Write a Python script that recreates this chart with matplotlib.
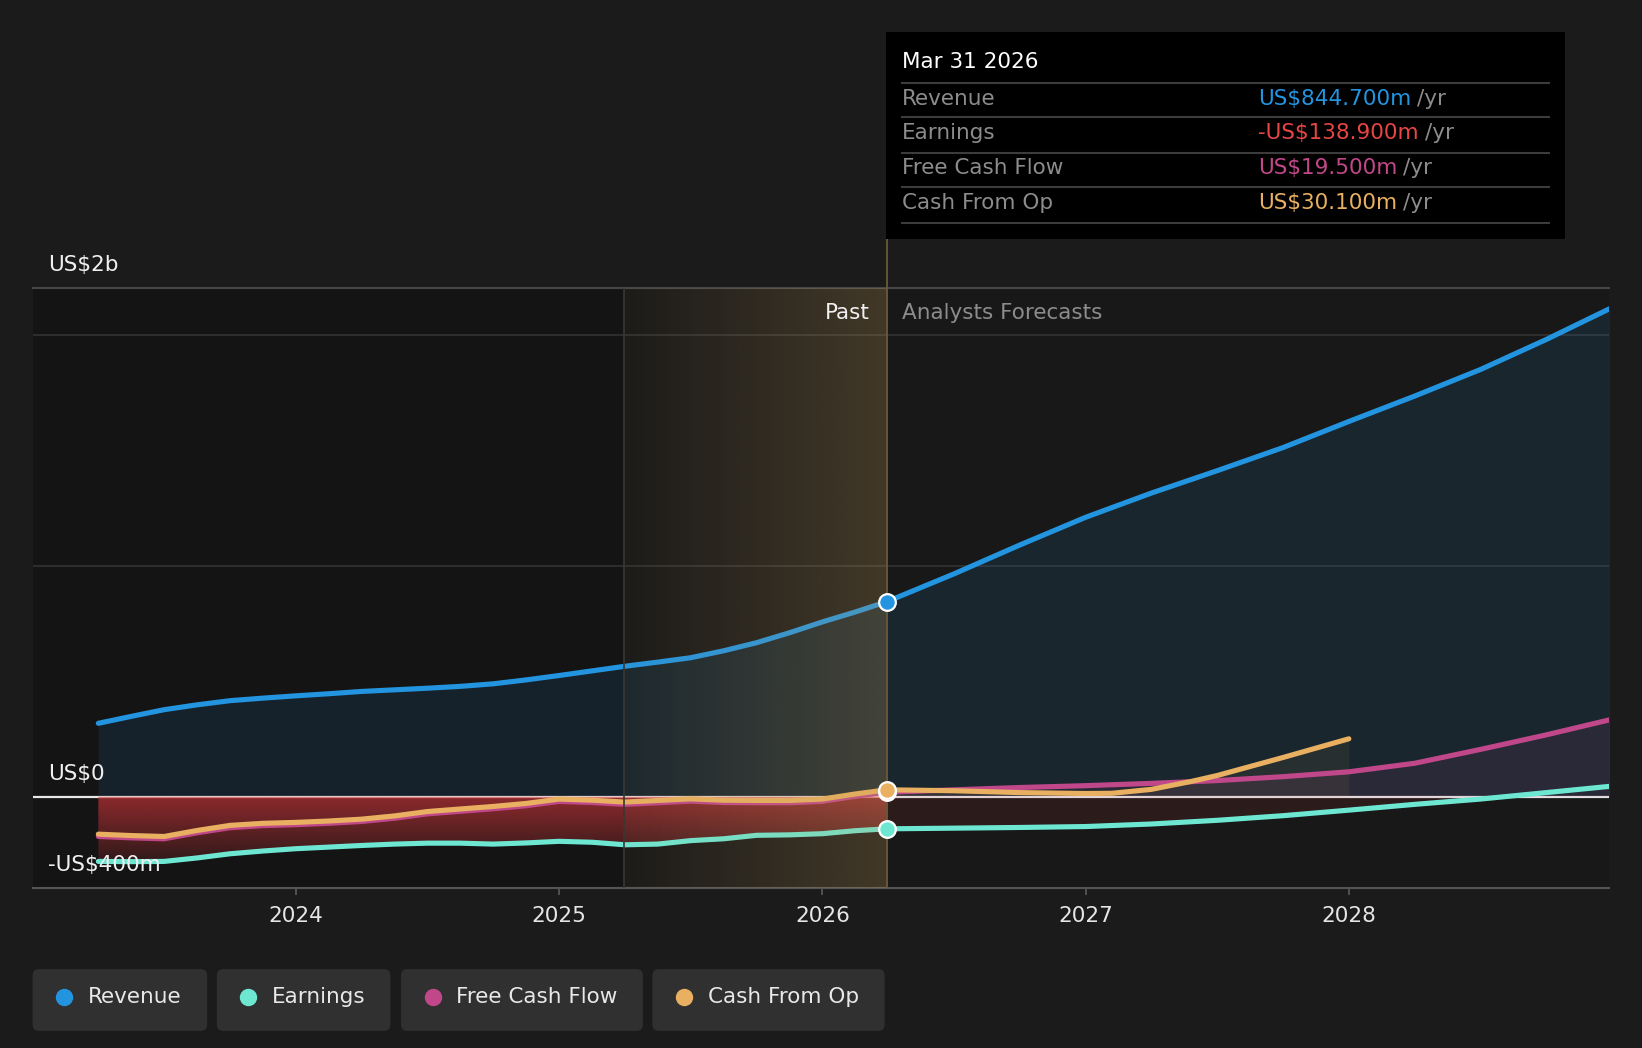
import numpy as np
import matplotlib
matplotlib.use("Agg")
import matplotlib.pyplot as plt
from matplotlib.patches import FancyBboxPatch, Rectangle
from matplotlib.lines import Line2D
from matplotlib.colors import to_rgb

plt.rcParams['font.family'] = ['DejaVu Sans']

# ---- data (US$ billions, x = decimal year) ----
past_x = [2023.25, 2023.375, 2023.5, 2023.625, 2023.75, 2023.875, 2024.0,
          2024.125, 2024.25, 2024.375, 2024.5, 2024.625, 2024.75, 2024.875,
          2025.0, 2025.125, 2025.25, 2025.375, 2025.5, 2025.625, 2025.75,
          2025.875, 2026.0, 2026.125, 2026.245]
rev_past = [0.318, 0.348, 0.377, 0.398, 0.416, 0.427, 0.437,
            0.446, 0.456, 0.463, 0.470, 0.478, 0.489, 0.506,
            0.525, 0.545, 0.565, 0.583, 0.602, 0.632, 0.667,
            0.710, 0.757, 0.800, 0.8447]
earn_past = [-0.280, -0.281, -0.280, -0.265, -0.247, -0.235, -0.225,
             -0.218, -0.211, -0.205, -0.201, -0.201, -0.205, -0.200,
             -0.193, -0.197, -0.208, -0.205, -0.190, -0.182, -0.167,
             -0.165, -0.160, -0.147, -0.1389]
fcf_past = [-0.172, -0.178, -0.182, -0.156, -0.134, -0.125, -0.121,
            -0.115, -0.107, -0.093, -0.074, -0.063, -0.052, -0.039,
            -0.020, -0.025, -0.033, -0.026, -0.019, -0.025, -0.026,
            -0.026, -0.020, 0.002, 0.0195]
cfo_past = [-0.162, -0.168, -0.172, -0.146, -0.124, -0.115, -0.111,
            -0.105, -0.097, -0.083, -0.064, -0.053, -0.042, -0.029,
            -0.010, -0.015, -0.023, -0.016, -0.009, -0.015, -0.016,
            -0.016, -0.010, 0.012, 0.0301]

fc_x = [2026.245, 2026.5, 2026.75, 2027.0, 2027.25, 2027.5, 2027.75,
        2028.0, 2028.25, 2028.5, 2028.75, 2028.99]
rev_fc = [0.8447, 0.965, 1.090, 1.210, 1.315, 1.412, 1.512,
          1.625, 1.735, 1.850, 1.980, 2.113]
earn_fc = [-0.1389, -0.136, -0.133, -0.129, -0.118, -0.102, -0.082,
           -0.058, -0.033, -0.010, 0.018, 0.045]
fcf_fc = [0.0195, 0.030, 0.040, 0.048, 0.058, 0.070, 0.087,
          0.108, 0.145, 0.205, 0.268, 0.333]
cfo_fc_x = [2026.245, 2026.5, 2026.75, 2027.0, 2027.1, 2027.25, 2027.4,
            2027.5, 2027.75, 2028.0]
cfo_fc = [0.0301, 0.026, 0.018, 0.014, 0.015, 0.032, 0.066,
          0.092, 0.170, 0.251]

now_x = 2026.245
band_start = 2025.245
years = [2024, 2025, 2026, 2027, 2028]

names = ['Revenue', 'Earnings', 'Free Cash Flow', 'Cash From Op']
colors = ['#2394df', '#6ee7d2', '#c0488a', '#e8b060']
tip_values = ['US$844.700m', '-US$138.900m', 'US$19.500m', 'US$30.100m']
tip_colors = ['#2394df', '#e84545', '#c0488a', '#e8b060']

BG = '#1b1b1b'
FS = 15.5
YLO, YHI = -0.395, 2.203
XLO, XHI = 2023.0, 2028.99

fig = plt.figure(figsize=(16.42, 10.48), dpi=100, facecolor=BG)
ax = fig.add_axes([0.0198, 0.1527, 0.9604, 0.5725])
ax.set_facecolor('#181818')

# darker past region
ax.add_patch(Rectangle((XLO, YLO), band_start - XLO, YHI - YLO,
                       facecolor='#141414', edgecolor='none', zorder=0))

# gridlines
for g in [1.0, 2.0]:
    ax.axhline(g, color='#333333', lw=1.2, zorder=0.8)
ax.axhline(YHI, color='#474747', lw=1.5, zorder=0.8, clip_on=False)
ax.axhline(0, color='#e6e6e6', lw=1.6, zorder=1.2)

all_x = past_x + fc_x[1:]
rev_all = rev_past + rev_fc[1:]

# revenue area
ax.fill_between(all_x, 0, rev_all, color='#2394df', alpha=0.115, lw=0, zorder=1)

# earnings gradient fill in the past
poly = ax.fill_between(past_x, 0, earn_past, facecolor='none', edgecolor='none')
red = np.array(to_rgb('#d7373c'))
grad = np.zeros((100, 1, 4))
grad[:, 0, :3] = red
grad[:, 0, 3] = np.linspace(0.62, 0.12, 100)
im = ax.imshow(grad, extent=[past_x[0], now_x, -0.3, 0], origin='upper',
               aspect='auto', zorder=1.5, interpolation='bilinear')
im.set_clip_path(poly.get_paths()[0], ax.transData)

# forecast fills
ax.fill_between(fc_x, 0, earn_fc, where=[v <= 0.002 for v in earn_fc],
                color='#d7373c', alpha=0.10, lw=0, zorder=1.4)
ax.fill_between(fc_x, 0, fcf_fc, color='#c0488a', alpha=0.10, lw=0, zorder=1.4)
ax.fill_between(cfo_fc_x, 0, cfo_fc, color='#e8b060', alpha=0.07, lw=0, zorder=1.45)

# lines
LW = 3.7
ax.plot(past_x + fc_x[1:], fcf_past + fcf_fc[1:], color=colors[2], lw=LW,
        solid_capstyle='round', solid_joinstyle='round', zorder=3)
ax.plot(past_x + cfo_fc_x[1:], cfo_past + cfo_fc[1:], color=colors[3], lw=LW,
        solid_capstyle='round', solid_joinstyle='round', zorder=3.1)
ax.plot(past_x + fc_x[1:], earn_past + earn_fc[1:], color=colors[1], lw=LW,
        solid_capstyle='round', solid_joinstyle='round', zorder=3.2)
ax.plot(all_x, rev_all, color=colors[0], lw=LW, solid_capstyle='round',
        solid_joinstyle='round', zorder=3.3)

# past band overlay (gold gradient)
gold = np.array(to_rgb('#c8a05a'))
band = np.zeros((1, 200, 4))
band[0, :, :3] = gold
band[0, :, 3] = np.linspace(0.03, 0.24, 200)
ax.imshow(band, extent=[band_start, now_x, YLO, YHI], aspect='auto',
          zorder=4, interpolation='bilinear')

ax.axvline(band_start, color='#3a3731', lw=1.2, zorder=4.5)
ax.plot([now_x, now_x], [YLO, YHI + 0.28], color='#6b5836', lw=1.3,
        zorder=4.5, clip_on=False)

# markers at the "now" point
for v, c in zip([earn_past[-1], fcf_past[-1], cfo_past[-1], rev_past[-1]],
                [colors[1], colors[2], colors[3], colors[0]]):
    ax.plot([now_x], [v], 'o', ms=12, mfc=c, mec='white', mew=1.6, zorder=6)

ax.set_xlim(XLO, XHI)
ax.set_ylim(YLO, YHI)

for s in ['top', 'right', 'left']:
    ax.spines[s].set_visible(False)
ax.spines['bottom'].set_color('#555555')
ax.spines['bottom'].set_linewidth(1.5)
ax.set_yticks([])
ax.set_xticks(years)
ax.set_xticklabels([str(y) for y in years])
ax.tick_params(axis='x', colors='#555555', length=5, width=1.3, pad=8,
               labelcolor='#e6e6e6', labelsize=FS)

# y labels
for val, txt in [(YHI, 'US$2b'), (0, 'US$0'), (YLO, '-US$400m')]:
    ax.annotate(txt, xy=(0, val), xycoords=('axes fraction', 'data'),
                xytext=(11, 16.5), textcoords='offset points',
                ha='left', va='center', color='#f0f0f0', fontsize=FS, zorder=7)

ax.annotate('Past', xy=(now_x, YHI), xytext=(-12, -18), textcoords='offset points',
            ha='right', va='center', color='#f0f0f0', fontsize=FS, zorder=7)
ax.annotate('Analysts Forecasts', xy=(now_x, YHI), xytext=(11, -18),
            textcoords='offset points', ha='left', va='center',
            color='#8c8c8c', fontsize=FS, zorder=7)

# ---- tooltip ----
W, H = 1642.0, 1048.0
def fx(px):
    return px / W
def fy(py):
    return 1 - py / H

fig.patches.append(Rectangle((fx(886), fy(239)), fx(1565) - fx(886), fy(32) - fy(239),
                             transform=fig.transFigure, facecolor='black',
                             edgecolor='none', zorder=1))
fig.text(fx(902), fy(62), 'Mar 31 2026', color='white', fontsize=FS, va='center', zorder=2)
for ly in [83, 117, 153, 187, 223]:
    fig.lines.append(Line2D([fx(902), fx(1549)], [fy(ly), fy(ly)],
                            transform=fig.transFigure, color='#3c3c3c', lw=1.5, zorder=2))
row_y = [99, 133, 168, 203]
val_texts = []
for name, val, c, ry in zip(names, tip_values, tip_colors, row_y):
    fig.text(fx(902), fy(ry), name, color='#8c8c8c', fontsize=FS, va='center', zorder=2)
    val_texts.append(fig.text(fx(1258), fy(ry), val, color=c, fontsize=FS,
                              va='center', zorder=2))

# ---- legend ----
leg_boxes = [(32.5, 207.3), (216.7, 390.5), (401.0, 643.0), (652.3, 884.7)]
for (x0, x1), name, c in zip(leg_boxes, names, colors):
    fig.patches.append(FancyBboxPatch((fx(x0 + 5), fy(1031 - 5)),
                                      fx(x1 - x0 - 10), (fy(969) - fy(1031)) - 10 / H,
                                      boxstyle='round,pad=0.003,rounding_size=0.004',
                                      transform=fig.transFigure, facecolor='#303030',
                                      edgecolor='none', zorder=1,
                                      mutation_aspect=W / H))
    fig.lines.append(Line2D([fx(x0 + 31.5)], [fy(997)], marker='o', ms=11.5,
                            mfc=c, mec=c, transform=fig.transFigure, zorder=2))
    fig.text(fx(x0 + 55.5), fy(997), name, color='#e8e8e8', fontsize=FS,
             va='center', zorder=2)

fig.canvas.draw()
r = fig.canvas.get_renderer()
for t, ry in zip(val_texts, row_y):
    bb = t.get_window_extent(renderer=r)
    fig.text(bb.x1 / W + fx(6), fy(ry), '/yr', color='#8c8c8c', fontsize=FS,
             va='center', zorder=2)

fig.savefig('out.png', dpi=100, facecolor=BG)
